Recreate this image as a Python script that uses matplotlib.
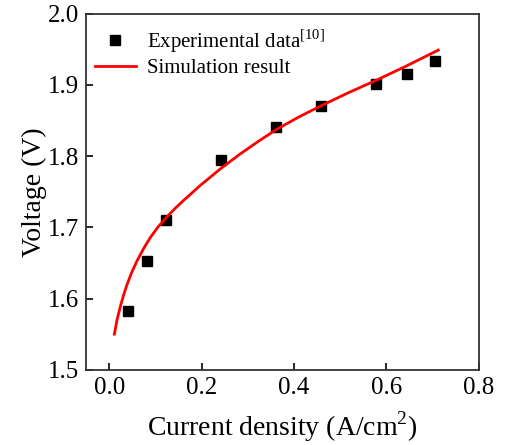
import numpy as np
import matplotlib
matplotlib.use('Agg')
import matplotlib.pyplot as plt

plt.rcParams['font.family'] = ['Liberation Serif', 'DejaVu Serif']
plt.rcParams['mathtext.fontset'] = 'custom'
plt.rcParams['mathtext.rm'] = 'Liberation Serif'

# experimental data
exp_x = [0.041, 0.082, 0.123, 0.242, 0.361, 0.458, 0.577, 0.644, 0.705]
exp_y = [1.583, 1.653, 1.711, 1.795, 1.841, 1.871, 1.902, 1.916, 1.934]

# simulation curve
sim_x = [0.011, 0.017, 0.024, 0.031, 0.038, 0.048, 0.060, 0.074, 0.089, 0.106,
         0.125, 0.143, 0.161, 0.197, 0.240, 0.283, 0.323, 0.363, 0.410, 0.456,
         0.517, 0.579, 0.644, 0.712]
sim_y = [1.550, 1.571, 1.589, 1.605, 1.619, 1.636, 1.653, 1.670, 1.686, 1.701,
         1.715, 1.727, 1.738, 1.759, 1.782, 1.803, 1.821, 1.838, 1.855, 1.870,
         1.889, 1.907, 1.927, 1.949]

fig = plt.figure(figsize=(5.1, 4.45), dpi=100)
ax = fig.add_axes([0.169, 0.169, 0.770, 0.800])

ax.plot(exp_x, exp_y, 's', color='black', markersize=6.5, label='Experimental data$^{[10]}$')
ax.plot(sim_x, sim_y, '-', color='red', linewidth=2, label='Simulation result')

ax.set_xlim(-0.05, 0.8)
ax.set_ylim(1.5, 2.0)
ax.set_xticks([0.0, 0.2, 0.4, 0.6, 0.8])
ax.set_yticks([1.5, 1.6, 1.7, 1.8, 1.9, 2.0])
ax.set_xticklabels(['0.0', '0.2', '0.4', '0.6', '0.8'])
ax.set_yticklabels(['1.5', '1.6', '1.7', '1.8', '1.9', '2.0'])
ax.tick_params(direction='in', length=5, width=1.2, labelsize=18, pad=5)
for s in ax.spines.values():
    s.set_linewidth(1.3)
    s.set_color('#333333')

ax.set_xlabel('Current density (A/cm$^2$)', fontsize=20, labelpad=8)
ax.set_ylabel('Voltage (V)', fontsize=20, labelpad=1)

ax.legend(loc='upper left', frameon=False, fontsize=15, handlelength=2.0,
          borderaxespad=0.0, labelspacing=0.2, handletextpad=0.5,
          bbox_to_anchor=(0.0, 0.986))

fig.savefig('out.png', dpi=100)
